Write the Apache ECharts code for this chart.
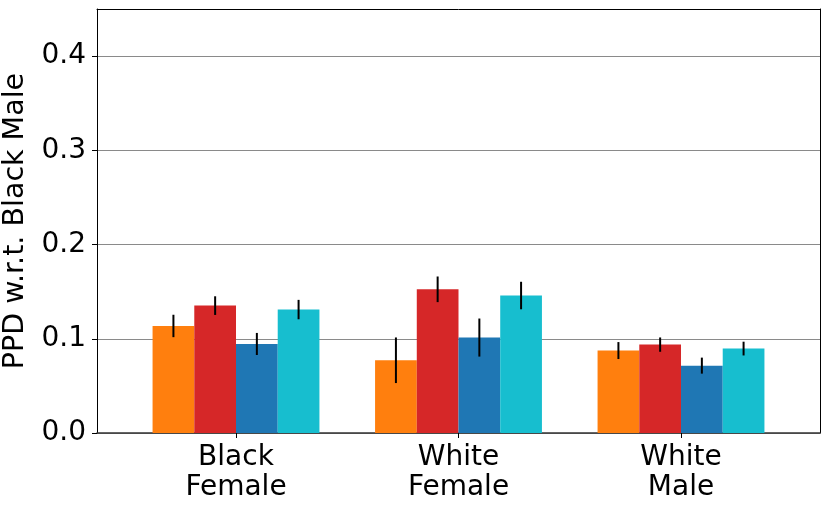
<!DOCTYPE html>
<html><head><meta charset="utf-8">
<script src="https://cdn.jsdelivr.net/npm/echarts@6/dist/echarts.min.js"></script>
<style>html,body{margin:0;padding:0;background:#fff}#c{width:830px;height:511px}</style>
</head><body><div id="c"></div>
<script>
const categories = ['Black\nFemale', 'White\nFemale', 'White\nMale'];
const seriesColors = ['#ff7f0e', '#d62728', '#1f77b4', '#17becf'];
const seriesA = [0.1136, 0.0772, 0.0875];
const seriesB = [0.1352, 0.1525, 0.0938];
const seriesC = [0.0945, 0.1013, 0.0715];
const seriesD = [0.1310, 0.1459, 0.0896];
const errA = [0.0119, 0.0242, 0.0090];
const errB = [0.0099, 0.0136, 0.0076];
const errC = [0.0117, 0.0202, 0.0085];
const errD = [0.0103, 0.0146, 0.0073];
const yTicks = [0, 0.1, 0.2, 0.3, 0.4];

const vals = [seriesA, seriesB, seriesC, seriesD];
const errs = [errA, errB, errC, errD];
const FONT = 'DejaVu Sans';
const BW = 0.1875;

const barSeries = vals.map((v, s) => ({
  type: 'bar', xAxisIndex: 1, yAxisIndex: 1,
  data: v, barWidth: (BW * 100) + '%', barGap: '0%',
  itemStyle: { color: seriesColors[s] }, z: 2, silent: true
}));
const errData = [];
vals.forEach((v, s) => v.forEach((y, i) => errData.push([i, y, errs[s][i], s])));

const frameAxis = { show: true, axisLine: { show: true, onZero: false, lineStyle: { color: '#000', width: 1 } },
  axisTick: { show: false }, axisLabel: { show: false }, splitLine: { show: false } };

const chart = echarts.init(document.getElementById('c'), null, { renderer: 'canvas' });
chart.setOption({
  animation: false,
  backgroundColor: '#fff',
  grid: [
    { left: 97, right: 10, top: 9, bottom: 78, containLabel: false, outerBoundsMode: 'none' },
    { left: 124.75, right: 37.75, top: 9, bottom: 78, containLabel: false, outerBoundsMode: 'none' }
  ],
  xAxis: [
    Object.assign({}, frameAxis, { type: 'value', gridIndex: 0, min: 0, max: 1, position: 'bottom',
      axisLine: { show: true, onZero: false, lineStyle: { color: '#333', width: 1.5 } } }),
    { type: 'category', gridIndex: 1, data: categories,
      axisLine: { show: false },
      axisTick: { show: true, alignWithLabel: true, length: 5, lineStyle: { color: '#000', width: 1 } },
      axisLabel: { fontFamily: FONT, fontSize: 28, color: '#000', margin: 10, lineHeight: 30 } },
    Object.assign({ type: 'value', gridIndex: 0, min: 0, max: 1, position: 'top' }, frameAxis)
  ],
  yAxis: [
    { type: 'value', gridIndex: 0, min: 0, max: 0.45, interval: 0.1,
      name: 'PPD w.r.t. Black Male', nameLocation: 'middle', nameGap: 53,
      nameTextStyle: { fontFamily: FONT, fontSize: 28.5, color: '#000' },
      axisLine: { show: true, onZero: false, lineStyle: { color: '#000', width: 1 } },
      axisTick: { show: true, length: 5, customValues: yTicks, lineStyle: { color: '#000' } },
      axisLabel: { fontFamily: FONT, fontSize: 28, color: '#000', margin: 11, customValues: yTicks,
        formatter: v => v.toFixed(1) },
      splitLine: { show: true, lineStyle: { color: '#8a8a8a', width: 1.2 } } },
    { type: 'value', gridIndex: 1, min: 0, max: 0.45, show: false, splitLine: { show: false } },
    Object.assign({ type: 'value', gridIndex: 0, min: 0, max: 0.45, position: 'right' }, frameAxis)
  ],
  series: [...barSeries, {
    type: 'custom', xAxisIndex: 1, yAxisIndex: 1, z: 5, silent: true,
    data: errData,
    renderItem: (params, api) => {
      const ci = api.value(0), v = api.value(1), e = api.value(2), s = api.value(3);
      const top = api.coord([ci, v + e]);
      const bot = api.coord([ci, v - e]);
      const band = api.size([1, 0])[0];
      const x = top[0] + (s - 1.5) * band * BW;
      return { type: 'line', shape: { x1: x, y1: top[1], x2: x, y2: bot[1] },
        style: { stroke: '#000', lineWidth: 2 } };
    }
  }]
});
</script></body></html>
